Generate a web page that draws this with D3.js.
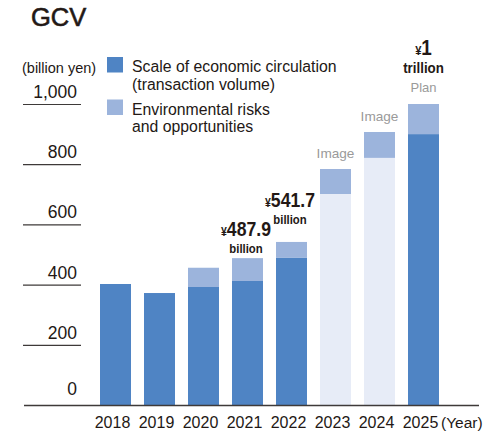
<!DOCTYPE html>
<html>
<head>
<meta charset="utf-8">
<script src="https://cdn.jsdelivr.net/npm/d3@7"></script>
<style>
  html, body { margin: 0; padding: 0; background: #fff; }
  svg { display: block; font-family: "Liberation Sans", Arial, Helvetica, sans-serif; }
</style>
</head>
<body>
<svg id="chart" width="497" height="434"></svg>
<script>
// GCV: scale of economic circulation plus environmental risks and opportunities (billion yen)
const years = ["2018", "2019", "2020", "2021", "2022", "2023", "2024", "2025"];
const baseValues = [402, 372, 392, 412, 490, 701, 821, 900];   // transaction volume
const envValues  = [0, 0, 64, 75.9, 51.7, 83, 86, 100];        // environmental risks and opportunities
const kinds = ["actual", "actual", "actual", "actual", "actual", "image", "image", "plan"];
const yTicks = [0, 200, 400, 600, 800, 1000];
const legendLabels = [
  ["Scale of economic circulation", "(transaction volume)"],
  ["Environmental risks", "and opportunities"]
];
// value callouts above the latest actual bars
const callouts = [
  { year: "2021", amount: "487.9", unit: "billion", lift: 0 },
  { year: "2022", amount: "541.7", unit: "billion", lift: 12.5 }
];
const planCallout = { year: "2025", amount: "1", unit: "trillion", note: "Plan" };
const imageNote = "Image";

const ink = "#231815";
const dark = "#4f84c4";
const light = "#9cb4dc";
const pale = "#e7ecf7";
const grey = "#9a9a9a";

const svg = d3.select("#chart");

const rows = years.map((y, i) => ({ year: y, base: baseValues[i], env: envValues[i], kind: kinds[i] }));

const x = d3.scaleBand()
  .domain(years)
  .range([93.5, 445.5])
  .paddingInner(0.2955)
  .paddingOuter(0.2955 / 2);

const y = d3.scaleLinear().domain([0, 1000]).range([405, 104]);

const stack = d3.stack().keys(["base", "env"]);
const series = stack(rows);

// title
svg.append("text")
  .attr("x", 31).attr("y", 26)
  .attr("font-size", 25.5)
  .attr("fill", ink)
  .attr("stroke", ink).attr("stroke-width", 0.6)
  .text("GCV");

// unit label
svg.append("text")
  .attr("x", 22).attr("y", 73)
  .attr("font-size", 14.5)
  .attr("fill", ink)
  .text("(billion yen)");

// y tick labels with short underlines
const yt = svg.append("g");
yTicks.forEach(v => {
  yt.append("text")
    .attr("x", 77)
    .attr("y", y(v) - (v === 0 ? 10 : 6))
    .attr("text-anchor", "end")
    .attr("font-size", 17.5)
    .attr("fill", ink)
    .text(d3.format(",")(v));
  if (v !== 0) {
    yt.append("line")
      .attr("x1", 23).attr("x2", 81)
      .attr("y1", y(v) + 0.5).attr("y2", y(v) + 0.5)
      .attr("stroke", "#3e3a39").attr("stroke-width", 1.2);
  }
});

// bars
const fillFor = (key, kind) => key === "env" ? light : (kind === "image" ? pale : dark);
series.forEach(s => {
  svg.append("g").selectAll("rect")
    .data(s.map((d, i) => ({ d, row: rows[i] })))
    .join("rect")
    .attr("x", o => x(o.row.year))
    .attr("width", x.bandwidth())
    .attr("y", o => y(o.d[1]))
    .attr("height", o => Math.max(0, y(o.d[0]) - y(o.d[1])))
    .attr("fill", o => fillFor(s.key, o.row.kind));
});

// baseline
svg.append("line")
  .attr("x1", 24).attr("x2", 479)
  .attr("y1", y(0) + 0.5).attr("y2", y(0) + 0.5)
  .attr("stroke", "#3e3a39").attr("stroke-width", 1.6);

// x axis labels
const xAxis = d3.axisBottom(x).tickSize(0).tickPadding(0).offset(-2.5);
const gx = svg.append("g")
  .attr("transform", `translate(-3, 428)`)
  .call(xAxis);
gx.select(".domain").remove();
gx.selectAll("text")
  .attr("font-family", "Liberation Sans, Arial, sans-serif")
  .attr("font-size", 16)
  .attr("fill", ink)
  .attr("y", 0)
  .attr("dy", 0);

svg.append("text")
  .attr("x", 441).attr("y", 428)
  .attr("font-size", 15.5)
  .attr("fill", ink)
  .text("(Year)");

// legend
const legendColors = [dark, light];
const lg = svg.append("g");
legendColors.forEach((c, i) => {
  const top = 57 + i * 42.5;
  lg.append("rect")
    .attr("x", 107).attr("y", top)
    .attr("width", 16).attr("height", 15.5)
    .attr("fill", c);
  legendLabels[i].forEach((t, j) => {
    lg.append("text")
      .attr("x", 132).attr("y", top + 15 + j * 17.5)
      .attr("font-size", 15.8)
      .attr("fill", ink)
      .text(t);
  });
});

// condensed bold two-line label (amount over unit), centered at cx
function callout(cx, baseline, ySize, ampSize, unitSize, gap, scale, amount, unit) {
  const g = svg.append("g")
    .attr("transform", `translate(${cx},${baseline}) scale(${scale},1)`);
  g.append("text")
    .attr("text-anchor", "middle")
    .attr("font-weight", "bold")
    .attr("fill", ink)
    .call(t => {
      t.append("tspan").attr("font-size", ySize).text("¥");
      t.append("tspan").attr("font-size", ampSize).text(amount);
    });
  g.append("text")
    .attr("y", gap)
    .attr("text-anchor", "middle")
    .attr("font-weight", "bold")
    .attr("font-size", unitSize)
    .attr("fill", ink)
    .text(unit);
}

const totalOf = yr => { const r = rows.find(d => d.year === yr); return r.base + r.env; };

callouts.forEach(c => {
  const cx = x(c.year) + x.bandwidth() / 2 - 1.5;
  const top = y(totalOf(c.year)) - c.lift;
  callout(cx, top - 22, 12.5, 21, 13.5, 16.8, 0.84, c.amount, c.unit);
});

// plan callout
{
  const cx = x(planCallout.year) + x.bandwidth() / 2;
  const top = y(totalOf(planCallout.year));
  callout(cx, top - 49, 13, 22, 15.5, 18.5, 0.86, planCallout.amount, planCallout.unit);
  svg.append("text")
    .attr("x", cx).attr("y", top - 12)
    .attr("text-anchor", "middle")
    .attr("font-size", 13)
    .attr("fill", grey)
    .text(planCallout.note);
}

// "Image" notes over projected years
rows.filter(r => r.kind === "image").forEach(r => {
  svg.append("text")
    .attr("x", x(r.year) + x.bandwidth() / 2)
    .attr("y", y(r.base + r.env) - 11)
    .attr("text-anchor", "middle")
    .attr("font-size", 13.6)
    .attr("fill", grey)
    .text(imageNote);
});
</script>
</body>
</html>
